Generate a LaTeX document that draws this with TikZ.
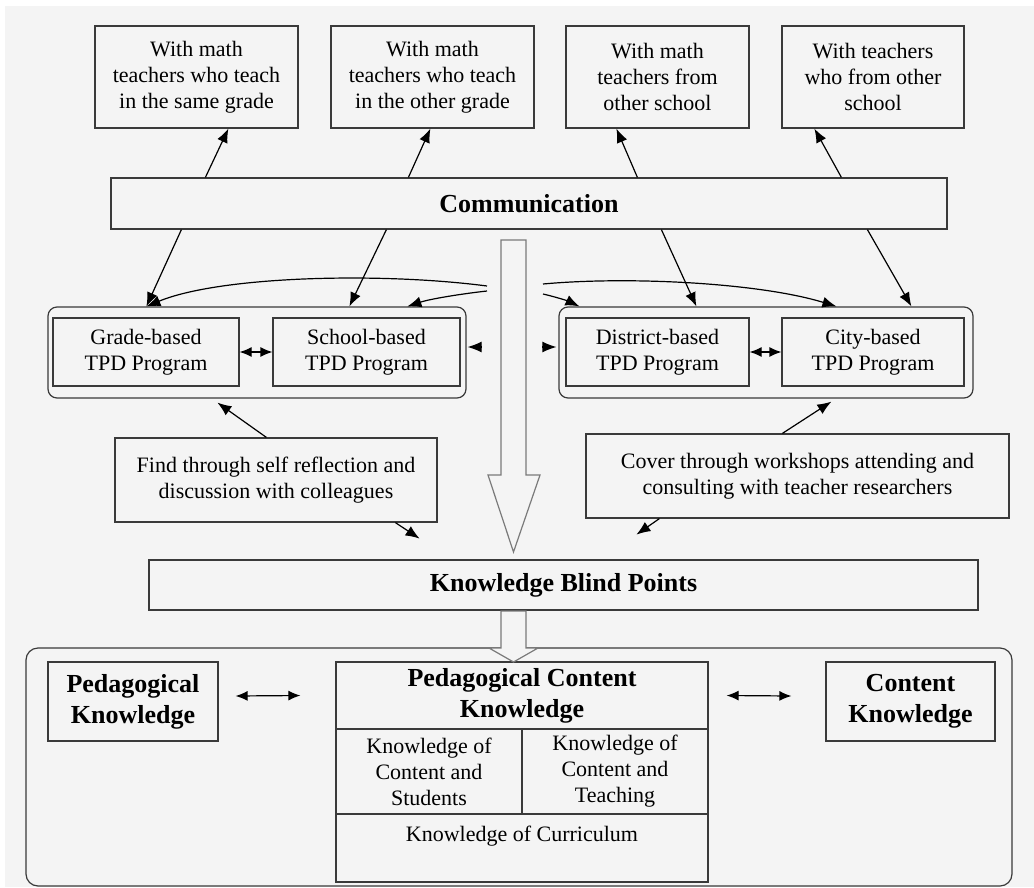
\documentclass[tikz,border=0pt]{standalone}
\usepackage{fontspec}
\setmainfont{Liberation Serif}
\usetikzlibrary{arrows.meta,calc}
\definecolor{bgc}{HTML}{F4F4F4}
\definecolor{edgec}{HTML}{3A3A3A}
\definecolor{hollowc}{HTML}{7A7A7A}
\begin{document}
\begin{tikzpicture}[x=1pt,y=-1pt,
  box/.style={rectangle,draw=edgec,line width=1.2pt,fill=bgc,inner sep=0pt,align=center,font=\fontsize{22}{26}\selectfont},
  bbox/.style={box,font=\fontsize{26}{31}\selectfont\bfseries},
  grp/.style={rectangle,draw=edgec,line width=1.2pt,rounded corners=9pt,inner sep=0pt},
  arr/.style={draw=black,line width=1.2pt,-{Latex[length=14pt,width=11pt]}},
  darr/.style={draw=black,line width=1.2pt,{Latex[length=12pt,width=10pt]}-{Latex[length=12pt,width=10pt]}},
  hol/.style={draw=hollowc,line width=1.2pt,fill=bgc}]
\useasboundingbox (0,0) rectangle (1034,887);
\fill[white] (0,0) rectangle (1034,887);
\fill[bgc] (5,6) rectangle (1034,887);

% top boxes
\node[box,minimum width=203pt,minimum height=102pt] (b1) at (196.5,77) {With math\\teachers who teach\\in the same grade};
\node[box,minimum width=203pt,minimum height=102pt] (b2) at (432.5,77) {With math\\teachers who teach\\in the other grade};
\node[box,minimum width=183pt,minimum height=102pt] (b3) at (657.5,77) {With math\\teachers from\\other school};
\node[box,minimum width=182pt,minimum height=102pt] (b4) at (873,77) {With teachers\\who from other\\school};

\node[bbox,minimum width=836pt,minimum height=51pt] (comm) at (529,203.5) {Communication};

% groups
\node[grp,minimum width=418pt,minimum height=91pt] (L) at (257,352.5) {};
\node[grp,minimum width=414pt,minimum height=91pt] (R) at (766,352.5) {};
\node[box,minimum width=186pt,minimum height=68pt] (grade) at (146,352) {Grade-based\\TPD Program};
\node[box,minimum width=187pt,minimum height=68pt] (school) at (366.5,352) {School-based\\TPD Program};
\node[box,minimum width=183pt,minimum height=68pt] (district) at (657.5,352) {District-based\\TPD Program};
\node[box,minimum width=182pt,minimum height=68pt] (city) at (873,352) {City-based\\TPD Program};

\node[box,minimum width=322pt,minimum height=84pt] (find) at (276,480) {Find through self reflection and\\discussion with colleagues};
\node[box,minimum width=423pt,minimum height=84pt] (cover) at (797.5,476) {Cover through workshops attending and\\consulting with teacher researchers};

\node[bbox,minimum width=829pt,minimum height=50pt] (kbp) at (563.5,585) {Knowledge Blind Points};

% bottom group
\node[grp,rounded corners=12pt,minimum width=986pt,minimum height=238pt] (B) at (519,767) {};
\node[bbox,minimum width=170pt,minimum height=79pt] (pk) at (133,701.5) {Pedagogical\\Knowledge};
\node[bbox,minimum width=169pt,minimum height=79pt] (ck) at (910.5,701.5) {Content\\Knowledge};
\node[bbox,minimum width=372pt,minimum height=67pt] (pck) at (522,695.5) {Pedagogical Content\\Knowledge};
\node[box,minimum width=186pt,minimum height=85pt] (kcs) at (429,771.5) {Knowledge of\\Content and\\Students};
\node[box,minimum width=186pt,minimum height=85pt] (kct) at (615,771.5) {Knowledge of\\Content and\\Teaching};
\node[box,minimum width=372pt,minimum height=68pt,label={[anchor=north,yshift=-9pt,font=\fontsize{22}{26}\selectfont]north:Knowledge of Curriculum}] (kc) at (522,848) {};

% communication to top boxes
\draw[arr] ($(comm.north west)+(95,0)$) -- ($(b1.south west)+(134,0)$);
\draw[arr] ($(comm.north west)+(298,0)$) -- ($(b2.south west)+(100,0)$);
\draw[arr] ($(comm.north west)+(527,0)$) -- ($(b3.south west)+(51,0)$);
\draw[arr] ($(comm.north west)+(731,0)$) -- ($(b4.south west)+(33,0)$);

% communication to programs
\draw[arr] ($(comm.south west)+(71,0)$) -- ($(L.north west)+(99,0)$);
\draw[arr] ($(comm.south west)+(276,0)$) -- ($(L.north west)+(302,0)$);
\draw[arr] ($(comm.south west)+(551,0)$) -- ($(R.north west)+(138,0)$);
\draw[arr] ($(comm.south west)+(757,0)$) -- ($(R.north west)+(353,0)$);

% curves
\coordinate (cl1) at (487,286);
\coordinate (cl2) at (487,291);
\coordinate (cr1) at (543,284);
\coordinate (cr2) at (543,294);
\draw[arr] (cl1) .. controls (380,272) and (220,276) .. ($(L.north west)+(99,0)$);
\draw[arr] (cl2) .. controls (460,294) and (430,299) .. ($(L.north west)+(360,0)$);
\draw[arr] (cr1) .. controls (630,276) and (760,283) .. ($(R.north west)+(278,0)$);
\draw[arr] (cr2) .. controls (556,297) and (568,301) .. ($(R.north west)+(21,0)$);

% between groups
\draw[darr] (grade) -- (school);
\draw[darr] (district) -- (city);
\draw[arr] ($(L.east)+(15,-5.5)$) -- ($(L.east)+(1,-5.5)$);
\draw[arr] ($(R.west)+(-16,-5.5)$) -- ($(R.west)+(-2,-5.5)$);

% find / cover arrows
\draw[arr] ($(find.north west)+(152,0)$) -- ($(L.south west)+(170,4)$);
\draw[arr] ($(find.south west)+(281,0)$) -- ($(find.south east)+(-18,16)$);
\draw[arr] ($(cover.north west)+(197,0)$) -- ($(R.south west)+(273,3)$);
\draw[arr] ($(cover.south west)+(74,0)$) -- ($(cover.south west)+(51,16)$);

% hollow arrows
\draw[hol] (501,240) -- (526,240) -- (526,475) -- (540,475) -- (513.5,552) -- (488,475) -- (501,475) -- cycle;
\draw[hol] (501,611) -- (526,611) -- (526,648) -- (538,648) -- (513.5,662) -- (489,648) -- (501,648) -- cycle;

% knowledge arrows
\draw[darr] ($(pk.east)+(17,-5.5)$) -- ($(pck.west)+(-35,0)$);
\draw[darr] ($(pck.east)+(18,0)$) -- ($(ck.west)+(-34,-5.5)$);
\end{tikzpicture}
\end{document}
